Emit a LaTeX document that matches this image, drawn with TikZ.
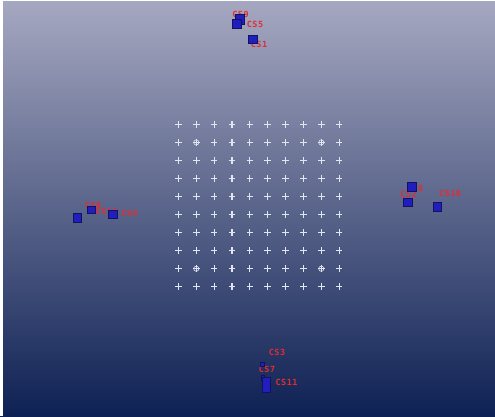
\documentclass[tikz,border=0pt]{standalone}
\usepackage{fontspec}
\newfontfamily\tagfont[LetterSpace=6]{DejaVu Sans Mono}
\definecolor{skytop}{RGB}{166,168,193}
\definecolor{skymid}{RGB}{88,99,140}
\definecolor{skybot}{RGB}{14,33,84}
\definecolor{boxblue}{RGB}{32,30,190}
\definecolor{boxedge}{RGB}{18,18,95}
\definecolor{tagred}{RGB}{225,45,50}
\definecolor{crossgray}{RGB}{226,229,242}

\begin{document}
\begin{tikzpicture}[x=1bp,y=-1bp,
  sensor/.style={draw=boxedge,fill=boxblue,line width=0.6bp,inner sep=0pt,minimum width=9bp,minimum height=9bp},
  tag/.style={text=tagred,font=\tagfont\bfseries\fontsize{8.5}{9}\selectfont,inner sep=0pt},
  target/.style={draw=crossgray,line width=1.1bp}]
\useasboundingbox (0,0) rectangle (495,416);
% backdrop
\shade[top color=skytop,middle color=skymid,bottom color=skybot] (0,0) rectangle (495,416);
\fill[white] (0,0) rectangle (2.5,416);
\fill[white] (0,0) rectangle (495,1);

% calibration grid
\foreach \i in {0,...,9}
  \foreach \j in {0,...,9}
    \draw[target] ({178.4+17.86*\i},{124.4+18.04*\j}) +(-3.3,0) -- +(3.3,0) +(0,-3.3) -- +(0,3.3);
\foreach \i in {1,8}
  \foreach \j in {1,8}
    \draw[target,line width=0.6bp] ({178.4+17.86*\i},{124.4+18.04*\j}) circle (2.6);

% labels (behind the boxes)
\node[tag] (t9) at (240.5,14) {CS9};
\node[tag] (t5) at (255,24.5) {CS5};
\node[tag] (t1) at (259,44) {CS1};
\node[tag] (t8) at (93,205) {CS8};
\node[tag] (t12) at (106.5,211.5) {CS12};
\node[tag] (t4) at (129.5,213.5) {CS4};
\node[tag] (t6) at (415,188) {CS6};
\node[tag] (t2) at (408.5,194.5) {CS2};
\node[tag] (t10) at (450,193.5) {CS10};
\node[tag] (t3) at (277,352.5) {CS3};
\node[tag] (t7) at (267,369.5) {CS7};
\node[tag] (t11) at (286.5,382.5) {CS11};

% sensor boxes
\node[sensor,minimum width=9bp,minimum height=10bp] (s9) at (239.5,19) {};
\node[sensor,minimum width=9bp,minimum height=9bp] (s5) at (236.5,23.5) {};
\node[sensor,minimum width=9bp,minimum height=8bp] (s1) at (252.5,39) {};
\node[sensor,minimum width=8bp,minimum height=9bp] (s8) at (77,218) {};
\node[sensor,minimum width=8bp,minimum height=7bp] (s12) at (91,209.5) {};
\node[sensor,minimum width=9bp,minimum height=8bp] (s4) at (112.5,214) {};
\node[sensor] (s6) at (411.5,186.5) {};
\node[sensor,minimum height=8bp] (s2) at (407.5,202) {};
\node[sensor,minimum width=8bp] (s10) at (437,206.5) {};
\node[sensor,minimum width=4bp,minimum height=4bp] (s3) at (262.5,364) {};
\node[sensor,minimum width=3bp,minimum height=5bp] (s7) at (263,378) {};
\node[sensor,minimum width=8bp,minimum height=15bp] (s11) at (266.5,384.5) {};
\end{tikzpicture}
\end{document}
